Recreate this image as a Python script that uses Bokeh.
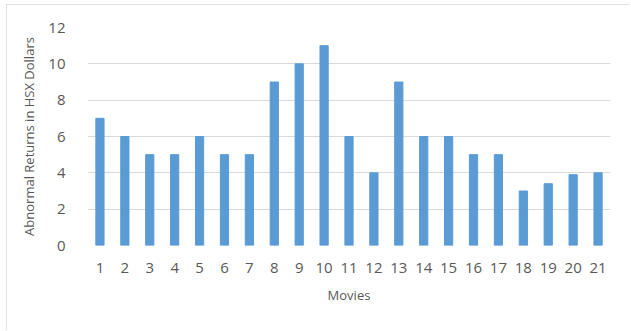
from bokeh.plotting import figure
from bokeh.models import FixedTicker, Range1d
from bokeh.embed import file_html
from bokeh.resources import INLINE

movies = [str(i) for i in range(1, 22)]
returns = [7, 6, 5, 5, 6, 5, 5, 9, 10, 11, 6, 4, 9, 6, 6, 5, 5, 3, 3.4, 3.9, 4]
y_ticks = [0, 2, 4, 6, 8, 10, 12]

FONT = "Open Sans"
TXT = "#595959"

p = figure(x_range=movies, y_range=Range1d(0, 12), width=624, height=326,
           output_backend="svg", toolbar_location=None,
           min_border_left=81, min_border_right=20, min_border_top=23, min_border_bottom=85)
p.styles = {"margin-left": "6px", "margin-top": "4px",
            "outline": "1px solid #D9D9D9", "outline-offset": "-1px"}
p.vbar(x=movies, top=returns, width=0.33, color="#5B9BD5")

p.outline_line_color = None
p.xgrid.grid_line_color = None
p.ygrid.grid_line_color = "#D9D9D9"
p.ygrid.grid_line_width = 1
p.yaxis.ticker = FixedTicker(ticks=y_ticks)

for ax in (p.xaxis[0], p.yaxis[0]):
    ax.axis_line_color = None
    ax.major_tick_line_color = None
    ax.minor_tick_line_color = None
    ax.major_label_text_font = FONT
    ax.major_label_text_font_size = "15px"
    ax.major_label_text_color = TXT
    ax.axis_label_text_font = FONT
    ax.axis_label_text_font_size = "13px"
    ax.axis_label_text_font_style = "normal"
    ax.axis_label_text_color = TXT

p.xaxis.axis_label = "Movies"
p.yaxis.axis_label = "Abnormal Returns in HSX Dollars"
p.xaxis.major_label_standoff = 11
p.xaxis.axis_label_standoff = 10
p.yaxis.major_label_standoff = 16
p.yaxis.axis_label_standoff = 7

open("out.html", "w").write(file_html(p, INLINE))
